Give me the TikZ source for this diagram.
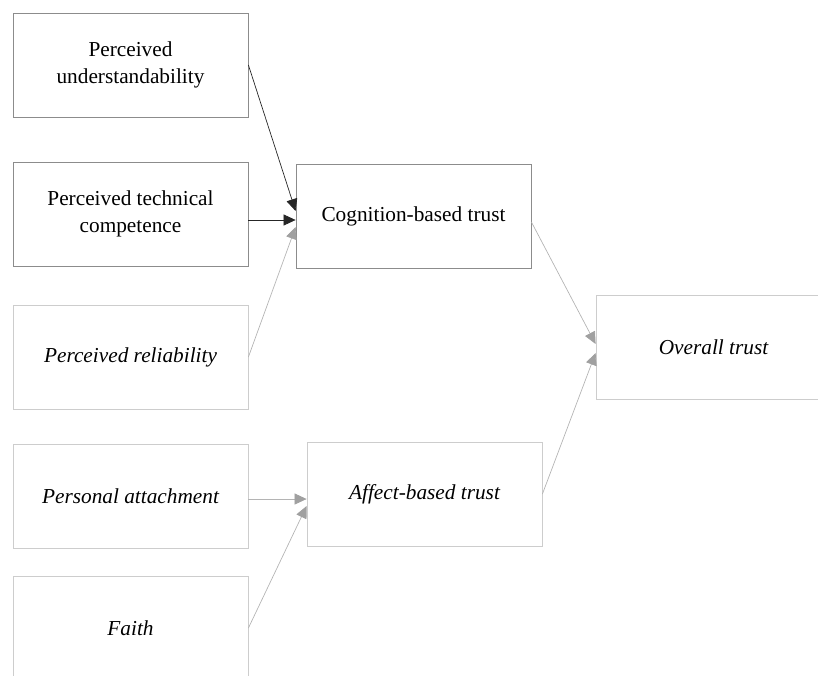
\documentclass[tikz,border=0pt]{standalone}
\usepackage{fontspec}
\setmainfont{Liberation Serif}
\usetikzlibrary{arrows.meta}
\definecolor{darkedge}{HTML}{8C8C8C}
\definecolor{lightedge}{HTML}{CDCDCD}
\definecolor{grayline}{HTML}{B4B4B4}
\definecolor{grayhead}{HTML}{A0A0A0}
\tikzset{
  boxbase/.style={rectangle, minimum width=235pt, minimum height=104pt, inner sep=0pt, align=center,
    font=\fontsize{21.3}{26.5}\selectfont, line width=0.8pt},
  darkbox/.style={boxbase, draw=darkedge},
  lightbox/.style={boxbase, draw=lightedge},
  blackarrow/.style={line width=0.7pt, draw=black!85, -{Triangle[length=12pt,width=11pt]}},
  grayarrow/.style={line width=0.7pt, draw=grayline, -{Triangle[length=12pt,width=11pt,color=grayhead,fill=grayhead]}},
}
\begin{document}
\begin{tikzpicture}[x=1pt,y=-1pt]
\useasboundingbox (0,0) rectangle (818,675);
\node[darkbox] (und) at (130.5,65) {Perceived\\understandability};
\node[darkbox] (comp) at (130.5,214) {Perceived technical\\competence};
\node[lightbox] (rel) at (130.5,357) {\itshape Perceived reliability};
\node[lightbox] (pa) at (130.5,496) {\itshape Personal attachment};
\node[lightbox] (faith) at (130.5,628) {\itshape Faith};
\node[darkbox] (cog) at (413.5,216) {Cognition-based trust};
\node[lightbox] (aff) at (424.5,494) {\itshape Affect-based trust};
\node[lightbox] (over) at (713.5,347) {\itshape Overall trust};
\draw[blackarrow] (und.east) -- ([yshift=5pt]cog.west);
\draw[blackarrow] ([yshift=-6pt]comp.east) -- ([yshift=-4pt]cog.west);
\draw[grayarrow] (rel.east) -- ([yshift=-11pt]cog.west);
\draw[grayarrow] ([yshift=-6pt]cog.east) -- ([yshift=3pt]over.west);
\draw[grayarrow] (aff.east) -- ([yshift=-6pt]over.west);
\draw[grayarrow] ([yshift=-3pt]pa.east) -- ([yshift=-5pt]aff.west);
\draw[grayarrow] (faith.east) -- ([yshift=-12pt]aff.west);
\end{tikzpicture}
\end{document}
